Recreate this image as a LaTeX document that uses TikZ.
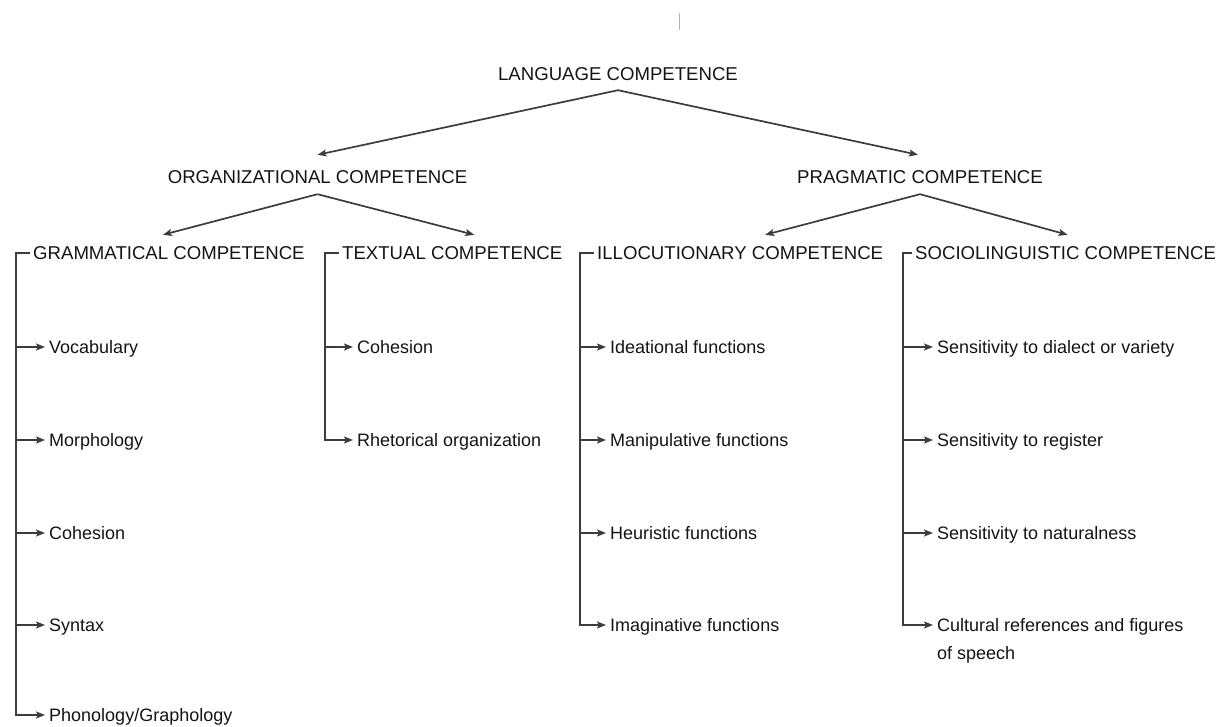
\documentclass[tikz,border=0pt]{standalone}
\usepackage{fontspec}
\setmainfont{Liberation Sans}
\usetikzlibrary{arrows.meta}
\definecolor{ink}{HTML}{141414}
\definecolor{wirecol}{HTML}{3C3C3C}
\begin{document}
\begin{tikzpicture}[x=1pt,y=-1pt,
  capfont/.style={font=\fontsize{18.6}{22}\selectfont},
  itemfont/.style={font=\fontsize{18}{28}\selectfont},
  topnode/.style={capfont, text=ink, inner xsep=0pt, text height=13.3pt, text depth=0pt},
  head/.style={capfont, text=ink, anchor=west, inner xsep=3pt, inner ysep=11.35pt, text height=13.3pt, text depth=0pt},
  item/.style={itemfont, text=ink, anchor=west, inner xsep=4pt, inner ysep=0pt, text height=13pt, text depth=0pt},
  wire/.style={draw=wirecol, line width=1.7pt},
  arr/.style={wire, -{Stealth[length=9pt,width=7pt,inset=2pt]}},
]
\useasboundingbox (0,0) rectangle (1232,727);
\draw[gray!60, line width=0.9pt] (679,13) -- (679,30);

% top levels
\node[topnode, inner ysep=9.85pt] (lang) at (618,73.5) {LANGUAGE COMPETENCE};
\node[topnode, inner ysep=10.35pt] (org) at (317.5,177) {ORGANIZATIONAL COMPETENCE};
\node[topnode, inner ysep=10.35pt] (prag) at (920,177) {PRAGMATIC COMPETENCE};
\draw[arr] (lang.south) -- ([yshift=5pt]org.north);
\draw[arr] (lang.south) -- ([xshift=-2pt,yshift=5pt]prag.north);

% third level
\node[head] (gram) at (30,253) {GRAMMATICAL COMPETENCE};
\node[head] (text) at (339,253) {TEXTUAL COMPETENCE};
\node[head] (illo) at (594,253) {ILLOCUTIONARY COMPETENCE};
\node[head] (soc) at (912,253) {SOCIOLINGUISTIC COMPETENCE};
\draw[arr] (org.south) -- ([xshift=-6pt]gram.north);
\draw[arr] (org.south) -- ([xshift=22pt]text.north);
\draw[arr] (prag.south) -- ([xshift=25pt]illo.north);
\draw[arr] (prag.south) -- ([xshift=2pt]soc.north);

\coordinate (gc) at (16,253);
\coordinate (tc) at (325,253);
\coordinate (ic) at (580,253);
\coordinate (sc) at (903,253);

% grammatical
\node[item] (voc) at (45,347) {Vocabulary};
\node[item] (mor) at (45,440) {Morphology};
\node[item] (coh) at (45,533) {Cohesion};
\node[item] (syn) at (45,625) {Syntax};
\node[item] (pho) at (45,715) {Phonology/Graphology};
\draw[arr] (gram.west) -- (gc) |- (pho.west);
\foreach \n in {voc,mor,coh,syn} \draw[arr] (gc |- \n.west) -- (\n.west);

% textual
\node[item] (tcoh) at (353,347) {Cohesion};
\node[item] (rhet) at (353,440) {Rhetorical organization};
\draw[arr] (text.west) -- (tc) |- (rhet.west);
\draw[arr] (tc |- tcoh.west) -- (tcoh.west);

% illocutionary
\node[item] (idea) at (606,347) {Ideational functions};
\node[item] (mani) at (606,440) {Manipulative functions};
\node[item] (heur) at (606,533) {Heuristic functions};
\node[item] (imag) at (606,625) {Imaginative functions};
\draw[arr] (illo.west) -- (ic) |- (imag.west);
\foreach \n in {idea,mani,heur} \draw[arr] (ic |- \n.west) -- (\n.west);

% sociolinguistic
\node[item] (dial) at (933,347) {Sensitivity to dialect or variety};
\node[item] (regi) at (933,440) {Sensitivity to register};
\node[item] (natu) at (933,533) {Sensitivity to naturalness};
\node[itemfont, text=ink, anchor=north west, inner xsep=4pt, inner ysep=0pt, align=left] (cult) at (933,618.4) {Cultural references and figures\\of speech};
\draw[arr] (soc.west) -- (sc) |- ([yshift=-6.6pt]cult.north west);
\foreach \n in {dial,regi,natu} \draw[arr] (sc |- \n.west) -- (\n.west);
\end{tikzpicture}
\end{document}
